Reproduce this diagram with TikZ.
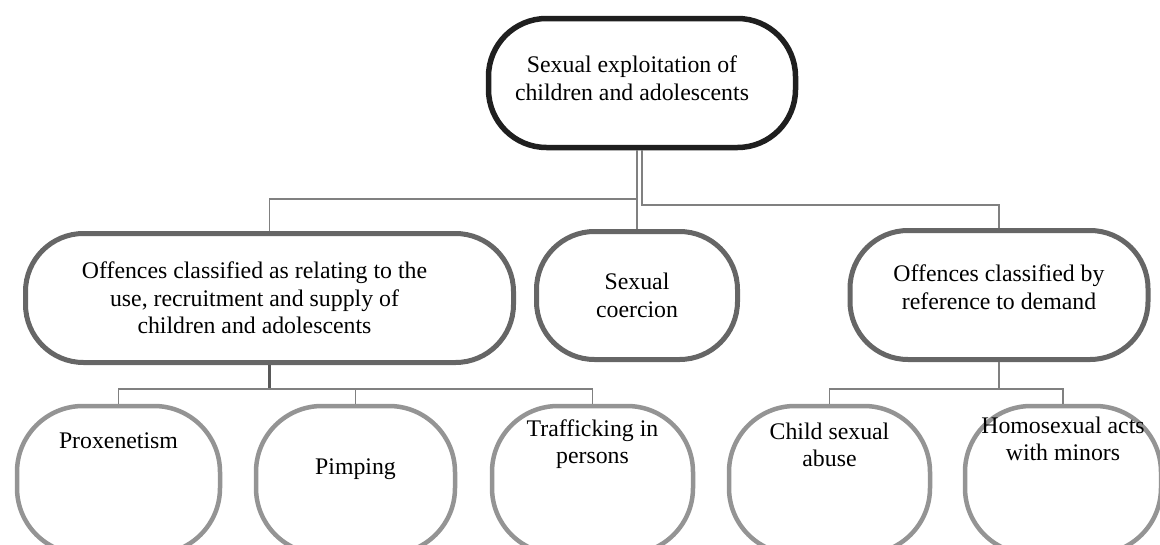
\documentclass[tikz,border=0pt]{standalone}
\usepackage{fontspec}
\setmainfont{Liberation Serif}

\tikzset{
  txt/.style={align=center, inner sep=0pt, font=\fontsize{23.8}{27.5}\selectfont},
  rootbox/.style={draw=black!88, line width=5.5pt, rounded corners=58pt, fill=white},
  midbox/.style={draw=black!60, line width=5pt, rounded corners=58pt, fill=white},
  leafbox/.style={draw=black!42, line width=4.5pt, rounded corners=66pt, fill=white},
  link/.style={draw=black!50, line width=1.8pt},
  trunk/.style={draw=black!65, line width=3.5pt}
}

\begin{document}
\begin{tikzpicture}[x=1pt, y=-1pt]
  \useasboundingbox (0,0) rectangle (1160,544);

  % Root
  \node[rootbox, minimum width=307pt, minimum height=129pt,
        label={[txt, xshift=-10pt, yshift=5pt]center:Sexual exploitation of\\children and adolescents}]
        (top) at (642,83) {};

  % Second level
  \node[midbox, minimum width=488pt, minimum height=129pt,
        label={[txt, xshift=-15pt]center:Offences classified as relating to the\\use, recruitment and supply of\\children and adolescents}]
        (use) at (269.5,298) {};
  \node[midbox, minimum width=201pt, minimum height=128pt,
        label={[txt]center:Sexual\\coercion}]
        (coer) at (637,295.5) {};
  \node[midbox, minimum width=298pt, minimum height=129pt,
        label={[txt, yshift=8pt]center:Offences classified by\\reference to demand}]
        (dem) at (999,295) {};

  % Leaves
  \node[leafbox, minimum width=203pt, minimum height=148pt,
        label={[txt, yshift=39pt]center:Proxenetism}]
        (prox) at (118.5,480) {};
  \node[leafbox, minimum width=199pt, minimum height=148pt,
        label={[txt, yshift=11pt]center:Pimping}]
        (pimp) at (355.5,480) {};
  \node[leafbox, minimum width=201pt, minimum height=148pt,
        label={[txt, yshift=36pt]center:Trafficking in\\persons}]
        (traf) at (592.5,480) {};
  \node[leafbox, minimum width=201pt, minimum height=148pt,
        label={[txt, yshift=35pt]center:Child sexual\\abuse}]
        (csa) at (829.5,480) {};
  \node[leafbox, minimum width=196pt, minimum height=148pt,
        label={[txt, yshift=41pt]center:Homosexual acts\\with minors}]
        (homo) at (1063,480) {};

  % Connectors from the root
  \draw[link] (coer.north |- top.south) -- (coer.north);
  \draw[link] (coer.north |- top.south) ++(0,49) -| (use.north);
  \draw[link] (top.south) -- ++(0,55) -| (dem.north);

  % Connectors to the leaves
  \draw[trunk] (use.south) -- ++(0,24) coordinate (useJ);
  \draw[link] (prox.north) |- (useJ) -| (traf.north);
  \draw[link] (pimp.north) -- (pimp.north |- useJ);
  \draw[link] (dem.south) -- ++(0,27) coordinate (demJ);
  \draw[link] (csa.north) |- (demJ) -| (homo.north);
\end{tikzpicture}
\end{document}
